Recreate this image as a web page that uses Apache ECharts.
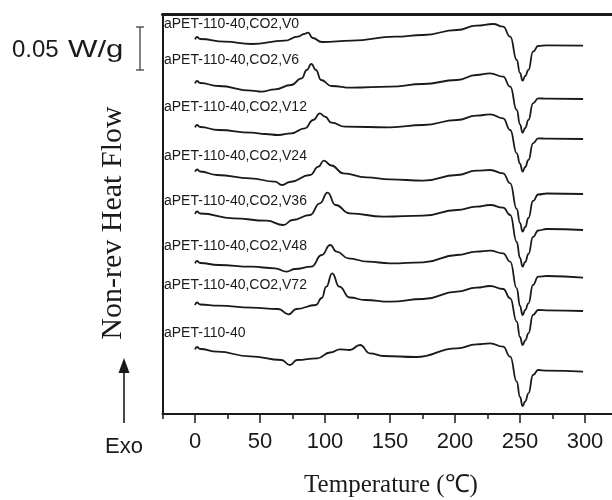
<!DOCTYPE html>
<html>
<head>
<meta charset="utf-8">
<script src="https://cdn.jsdelivr.net/npm/echarts@6/dist/echarts.min.js"></script>
<style>html,body{margin:0;padding:0;background:#fff}#c{width:612px;height:500px}</style>
</head>
<body>
<div id="c"></div>
<script>
// Temperature (°C) and offset non-reversing heat flow (a.u., stacked)
const tV0 = [0,1.5,4,23,43.5,69,79,84,87,90.5,97.5,120.5,154,175.5,201.5,216.5,229.5,237,242.5,247.5,250,252,254,256.5,260,264,270.5,298.5];
const hV0 = [374.7,377,375,372.3,370,373.3,377.3,380,381.3,376,372,373.3,377.3,379,384,388.3,390,387.3,377.3,354,341,333.3,338,344,362.3,368,368.7,368.3];
const tV6 = [0,1.5,4,18,43.5,51,61.5,74,82,86,89.5,93,97,105,120.5,150,175.5,201.5,216.5,227,237,242.5,247.5,250,252,254,256.5,260,264,270.5,298.5];
const hV6 = [330.7,333,331,328,323.3,322.3,324.7,329,335.7,344,350,344,334,328,326.3,327.3,330,334,339,340.7,337.3,327.3,304,289.6,281.3,286,294,310.7,315.7,315.3,315];
const tV12 = [0,1.5,4,18,43.5,54,64,74,84.5,91,96,100,105,115.5,150,175.5,201.5,216.5,227,237,242.5,247.5,250,252,254,256.5,260,264,270.5,298.5];
const hV12 = [286.7,289,287,284,281.3,280,279,280.7,285.7,294,300.7,297.3,291.3,287.3,286.7,289,294,298.3,299.7,295.7,284,260.7,250.3,242.3,247,254,270.7,275.7,275.3,275];
const tV24 = [0,1.5,4,17,42.5,61.5,67,73,88.5,95,99,105,114,132,150,175.5,201.5,216.5,227,237,242.5,247.5,250,252,254,256.5,260,264,270.5,298.5];
const hV24 = [242.3,244.5,242.5,239,235.7,232.3,229,232,239,247.3,253.3,248.5,240.7,236.7,234.7,233.3,239,243.3,244,240.7,230.7,205,191,182.3,187,196,213,219.5,220.5,220];
const tV36 = [0,1.5,4,29.5,55,68,75,88.5,96,102,108,119,145,175.5,201.5,216.5,227,237,242.5,247.5,250,252,254,256.5,260,264,270.5,298.5];
const hV36 = [200,202.5,200.5,195.7,193.3,189,194,199,210.7,221.3,209,200.7,197.3,198.3,204,207.3,209,206.3,199,172,156,147.3,152,160,177,183.5,185,184];
const tV48 = [0,1.5,4,18,43.5,61.5,70.5,77,89.5,97.5,104,109,118,133,150,175.5,201.5,216.5,227,237,242.5,247.5,250,252,254,256.5,260,264,270.5,298.5];
const hV48 = [150.7,153,151,149,147.3,145.7,142.3,145,147.3,159,169,162.3,155.7,152.3,150.7,151.7,159,162.3,163.3,160.7,152.3,125.7,108,99,104,110.7,129,137.3,138,136.3];
const tV72 = [0,1.5,4,18,43.5,64,72,78,93,97.5,101,105.5,111,119,131,150,175.5,201.5,216.5,227,237,242.5,247.5,250,252,254,256.5,260,264,270.5,298.5];
const hV72 = [109,111.5,109.5,108.3,106.3,105,99.7,105,109,116,127.3,140.7,127.3,116.5,114,112.3,115,122.3,126.3,128,125,115.7,92.3,77,69,73.5,80.7,99,104,103.7,103];
const tA = [0,1.5,4,17,42.5,66.5,73,78.5,94,104,111.5,119,127,134.5,145,170,201.5,216.5,227,237,242.5,247.5,250,252,254,256.5,260,264,270.5,298.5];
const hA = [64.7,67,65,62.3,57.7,54,49,54,55.7,61.5,64.7,64,69,60.7,58,57,65.7,69.7,70.7,67.3,57.3,32.3,17,8,12.5,20.7,39,44,43.3,42.3];

const curveNames = ['aPET-110-40,CO2,V0','aPET-110-40,CO2,V6','aPET-110-40,CO2,V12','aPET-110-40,CO2,V24','aPET-110-40,CO2,V36','aPET-110-40,CO2,V48','aPET-110-40,CO2,V72','aPET-110-40'];
const curveT = [tV0,tV6,tV12,tV24,tV36,tV48,tV72,tA];
const curveH = [hV0,hV6,hV12,hV24,hV36,hV48,hV72,hA];
const xTickLabels = [0,50,100,150,200,250,300];

// label positions (style/layout only)
const labelY = [25,61,108,157,202,247,286,334];

const SANS = '"Liberation Sans", Arial, sans-serif';
const SERIF = '"Liberation Serif", "Times New Roman", serif';
const INK = '#1a1a1a';

const chart = echarts.init(document.getElementById('c'), null, {renderer:'canvas'});

const series = curveNames.map((n,k)=>({
  name:n, type:'line', xAxisIndex:0, yAxisIndex:0,
  data: curveT[k].map((t,i)=>[t, curveH[k][i]]),
  showSymbol:false, smooth:0.5, smoothMonotone:'x',
  lineStyle:{color:INK, width:1.8}, silent:true, animation:false
}));

const graphics = [];
curveNames.forEach((n,k)=>{
  graphics.push({type:'text', left:164, top:labelY[k]-8, style:{text:n, font:'14px '+SANS, fill:INK}});
});
graphics.push(
  {type:'text', x:12, y:50, style:{text:'0.05', font:'24px '+SANS, fill:INK, verticalAlign:'middle'}},
  {type:'text', x:68, y:50, scaleX:1.3, style:{text:'W/g', font:'24px '+SANS, fill:INK, verticalAlign:'middle'}},
  {type:'line', shape:{x1:140,y1:27,x2:140,y2:70}, style:{stroke:'#333', lineWidth:1.2}},
  {type:'line', shape:{x1:136,y1:27,x2:144,y2:27}, style:{stroke:'#333', lineWidth:1.2}},
  {type:'line', shape:{x1:136,y1:70,x2:144,y2:70}, style:{stroke:'#333', lineWidth:1.2}},
  {type:'line', shape:{x1:124,y1:423,x2:124,y2:370}, style:{stroke:INK, lineWidth:1.6}},
  {type:'polygon', shape:{points:[[124,358],[118.5,373],[129.5,373]]}, style:{fill:INK}},
  {type:'text', x:124, y:447, style:{text:'Exo', font:'22px '+SANS, fill:INK, align:'center', verticalAlign:'middle'}},
  {type:'text', x:113, y:223, rotation:Math.PI/2, style:{text:'Non-rev Heat Flow', font:'30px '+SERIF, fill:INK, align:'center', verticalAlign:'middle'}},
  {type:'text', x:391, y:485, style:{text:'Temperature (℃)', font:'25px '+SERIF, fill:INK, align:'center', verticalAlign:'middle'}}
);

chart.setOption({
  animation:false,
  backgroundColor:'#fff',
  grid:[
    {left:162.5, right:-25, top:14, bottom:86, containLabel:false, outerBoundsMode:'none'},
    {left:195, right:-25, top:14, bottom:86, containLabel:false, outerBoundsMode:'none'}
  ],
  xAxis:[
    {type:'value', gridIndex:0, min:-25, max:340, interval:25,
     axisLine:{show:true, onZero:false, lineStyle:{color:INK, width:2}},
     axisTick:{show:true, inside:false, length:5, lineStyle:{color:INK, width:1.5}},
     axisLabel:{show:false}, splitLine:{show:false}},
    {type:'value', gridIndex:1, min:0, max:340, interval:50,
     axisLine:{show:false, onZero:false},
     axisTick:{show:true, inside:false, length:9, lineStyle:{color:INK, width:1.5}},
     axisLabel:{show:true, margin:17, color:INK, fontSize:22, fontFamily:SANS,
       formatter:(v)=> xTickLabels.indexOf(v)>=0 ? String(v) : ''},
     splitLine:{show:false}},
    {type:'value', gridIndex:0, position:'top', min:-25, max:340,
     axisLine:{show:true, onZero:false, lineStyle:{color:INK, width:3}},
     axisTick:{show:false}, axisLabel:{show:false}, splitLine:{show:false}}
  ],
  yAxis:[
    {type:'value', gridIndex:0, min:0, max:400,
     axisLine:{show:true, onZero:false, lineStyle:{color:INK, width:2}},
     axisTick:{show:false}, axisLabel:{show:false}, splitLine:{show:false}},
    {type:'value', gridIndex:1, min:0, max:400, show:false}
  ],
  series: series,
  graphic: graphics
});
</script>
</body>
</html>
